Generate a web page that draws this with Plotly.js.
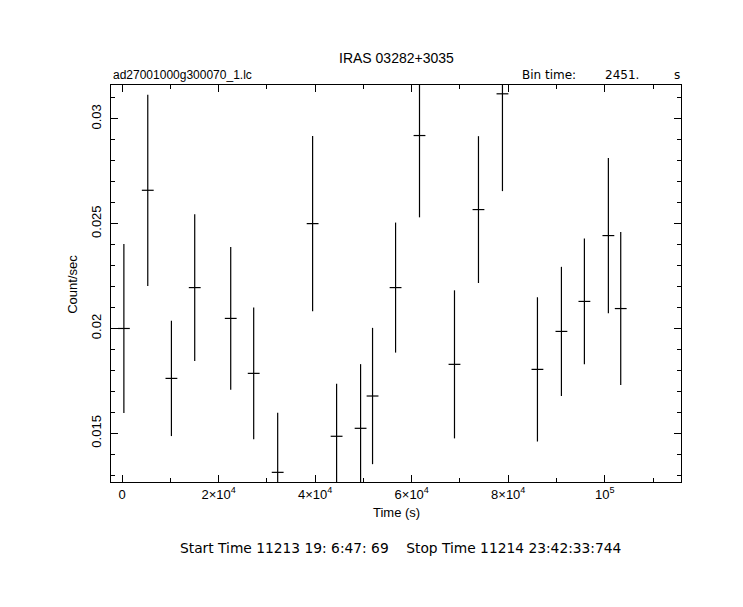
<!DOCTYPE html>
<html>
<head>
<meta charset="utf-8">
<script src="https://cdn.plot.ly/plotly-3.0.1.min.js"></script>
<style>
  html, body { margin: 0; padding: 0; background: #ffffff; }
  #chart { width: 743px; height: 607px; }
  #edge { position: absolute; left: 0; top: 0; width: 1px; height: 607px; background: #000; }
</style>
</head>
<body>
<div id="edge"></div>
<div id="chart"></div>
<script>
// Time (s) of each bin centre
const times = [350, 5300, 10200, 15030, 22490, 27250, 32220, 39460, 44430, 49400, 51880,
               56650, 61610, 68860, 73830, 78800, 86050, 91020, 95780, 100750, 103310];
// Count rate (count/sec)
const rates = [0.0200, 0.02659, 0.01762, 0.02195, 0.02048, 0.01786, 0.01314, 0.0250, 0.01486,
               0.01524, 0.01678, 0.02195, 0.0292, 0.01829, 0.02567, 0.03119, 0.01805, 0.01986,
               0.02129, 0.02443, 0.02095];
// 1-sigma error on rate
const rateErr = [0.00403, 0.00456, 0.00275, 0.0035, 0.0034, 0.00314, 0.00284, 0.00418, 0.0025,
                 0.00306, 0.00325, 0.0031, 0.0039, 0.00353, 0.0035, 0.00464, 0.00344, 0.00308,
                 0.003, 0.0037, 0.00365];
const binTime = 2451;
const halfBin = times.map(() => binTime / 2);

const xTickVals = [0, 20000, 40000, 60000, 80000, 100000];
const xTickText = ['0', '2×10<sup>4</sup>', '4×10<sup>4</sup>', '6×10<sup>4</sup>', '8×10<sup>4</sup>', '10<sup>5</sup>'];
const xMinorVals = [10000, 30000, 50000, 70000, 90000, 110000];
const yTickVals = [0.015, 0.02, 0.025, 0.03];
const yTickText = ['0.015', '0.02', '0.025', '0.03'];
const yMinorVals = [0.013, 0.014, 0.016, 0.017, 0.018, 0.019, 0.021, 0.022, 0.023, 0.024,
                    0.026, 0.027, 0.028, 0.029, 0.031];

const W = 743, H = 607;
const L = 110.5, R = 681, T = 84.5, B = 482;
const px = x => (x - L) / (R - L);
const py = y => (B - y) / (B - T);
const FONT = 'Liberation Sans, Arial, sans-serif';
const WIDE = 'DejaVu Sans, sans-serif';

const trace = {
  x: times, y: rates, type: 'scatter', mode: 'markers',
  marker: { size: 2, color: 'rgba(0,0,0,0)' },
  error_y: { type: 'data', array: rateErr, visible: true, color: '#000', thickness: 1.2, width: 0 },
  error_x: { type: 'data', array: halfBin, visible: true, color: '#000', thickness: 1.2, width: 0 },
  hoverinfo: 'skip', showlegend: false
};

const axisCommon = {
  showgrid: false, zeroline: false, showline: true, linecolor: '#000', linewidth: 1,
  mirror: 'allticks', ticks: 'inside', ticklen: 7, tickcolor: '#000', tickwidth: 1,
  tickfont: { family: FONT, size: 13, color: '#000' }, tickmode: 'array'
};

const layout = {
  width: W, height: H,
  margin: { l: L, r: W - R, t: T, b: H - B, pad: 0 },
  paper_bgcolor: '#fff', plot_bgcolor: '#fff',
  xaxis: Object.assign({}, axisCommon, {
    range: [-2320, 115800], tickvals: xTickVals, ticktext: xTickText,
    minor: { tickvals: xMinorVals, ticks: 'inside', ticklen: 4, tickcolor: '#000', tickwidth: 1 }
  }),
  yaxis: Object.assign({}, axisCommon, {
    range: [0.01268, 0.03161], tickvals: yTickVals, ticktext: yTickText, tickangle: -90,
    ticklabelstandoff: 4,
    minor: { tickvals: yMinorVals, ticks: 'inside', ticklen: 4, tickcolor: '#000', tickwidth: 1 }
  }),
  annotations: [
    { text: 'IRAS 03282+3035', x: px(396), y: py(57), xref: 'paper', yref: 'paper',
      xanchor: 'center', yanchor: 'middle', showarrow: false, font: { family: FONT, size: 14, color: '#000' } },
    { text: 'ad27001000g300070_1.lc', x: px(110), y: py(74), xref: 'paper', yref: 'paper',
      xanchor: 'left', yanchor: 'middle', showarrow: false, font: { family: FONT, size: 12, color: '#000' } },
    { text: 'Bin time:', x: px(520), y: py(74), xref: 'paper', yref: 'paper',
      xanchor: 'left', yanchor: 'middle', showarrow: false, font: { family: WIDE, size: 12, color: '#000' } },
    { text: binTime + '.', x: px(603), y: py(74), xref: 'paper', yref: 'paper',
      xanchor: 'left', yanchor: 'middle', showarrow: false, font: { family: WIDE, size: 12, color: '#000' } },
    { text: 's', x: px(682), y: py(74), xref: 'paper', yref: 'paper',
      xanchor: 'right', yanchor: 'middle', showarrow: false, font: { family: WIDE, size: 12, color: '#000' } },
    { text: 'Time (s)', x: px(396), y: py(513), xref: 'paper', yref: 'paper',
      xanchor: 'center', yanchor: 'middle', showarrow: false, font: { family: FONT, size: 13, color: '#000' } },
    { text: 'Count/sec', x: px(72), y: py(284), xref: 'paper', yref: 'paper', textangle: -90,
      xanchor: 'center', yanchor: 'middle', showarrow: false, font: { family: FONT, size: 13, color: '#000' } },
    { text: 'Start Time 11213 19: 6:47: 69    Stop Time 11214 23:42:33:744', x: px(400), y: py(548),
      xref: 'paper', yref: 'paper', xanchor: 'center', yanchor: 'middle', showarrow: false,
      font: { family: WIDE, size: 13.8, color: '#000' } }
  ]
};

Plotly.newPlot('chart', [trace], layout, { displayModeBar: false, staticPlot: true });
</script>
</body>
</html>
